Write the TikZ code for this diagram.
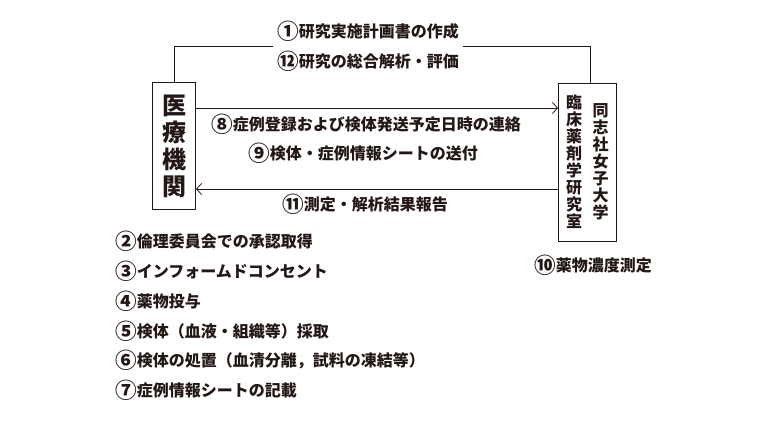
\documentclass[tikz,border=0pt]{standalone}
\usepackage{fontspec}
\setmainfont{Noto Sans CJK JP}
\usepackage{xcolor}
\usepackage{tikz}
\usetikzlibrary{arrows.meta}
\definecolor{ink}{HTML}{231815}
\newcommand\nb[1]{\raisebox{-1.6pt}{\scalebox{1.35}{#1}}}% numero cercle
\tikzset{
  txt/.style = {inner sep=0pt, text=ink, font=\bfseries\fontsize{16}{30}\selectfont},
  item/.style = {txt, anchor=west},
  boite/.style = {draw=ink, line width=1pt, inner sep=0pt},
  tate/.style = {txt, align=center, font=\bfseries\fontsize{16}{17}\selectfont},% colonne verticale
  fl/.style = {draw=ink, line width=0.8pt, -{Straight Barb[length=5pt,width=11pt]}}
}

\begin{document}
\begin{tikzpicture}[x=1pt, y=-1pt]
\useasboundingbox (0,0) rectangle (772,424);
\node [boite, minimum width=43pt, minimum height=127pt] (mc) at (174,146) {};
\node [tate, font=\bfseries\fontsize{24}{27}\selectfont] (mcT) at (mc) {医\\療\\機\\関};
\node [boite, minimum width=58pt, minimum height=158pt] (lab) at (587.5,162) {};
\node [tate] (labA) at (574,162) {臨\\床\\薬\\剤\\学\\研\\究\\室};
\node [tate] (labB) at (600.5,162) {同\\志\\社\\女\\子\\大\\学};
\node [txt, align=left, minimum width=190pt, minimum height=20pt] (plan) at (368,46) {\nb{①}研究実施計画書の作成\\\nb{⑫}研究の総合解析・評価};
\draw [ink, line width=0.8pt] (mc.north) |- (plan.west);
\draw [ink, line width=0.8pt] (plan.east) -| ([xshift=3pt]lab.north);
\coordinate (r1) at (0,108);
\coordinate (r2) at (0,189);
\draw [fl] (mc.east |- r1) -- (lab.west |- r1);
\draw [fl] (lab.west |- r2) -- (mc.east |- r2);
\node [txt] (m8) at (366,124) {\nb{⑧}症例登録および検体発送予定日時の連絡};
\node [txt] (m9) at (363,153) {\nb{⑨}検体・症例情報シートの送付};
\node [txt] (m11) at (365,204) {\nb{⑪}測定・解析結果報告};
\node [txt] (m10) at (593,265) {\nb{⑩}薬物濃度測定};
\node [item] (e2) at (115,241) {\nb{②}倫理委員会での承認取得};
\node [item] (e3) at (115,271) {\nb{③}インフォームドコンセント};
\node [item] (e4) at (115,301) {\nb{④}薬物投与};
\node [item] (e5) at (115,331) {\nb{⑤}検体（血液・組織等）採取};
\node [item] (e6) at (115,360) {\nb{⑥}検体の処置（血清分離，試料の凍結等）};
\node [item] (e7) at (115,390) {\nb{⑦}症例情報シートの記載};
\end{tikzpicture}
\end{document}
